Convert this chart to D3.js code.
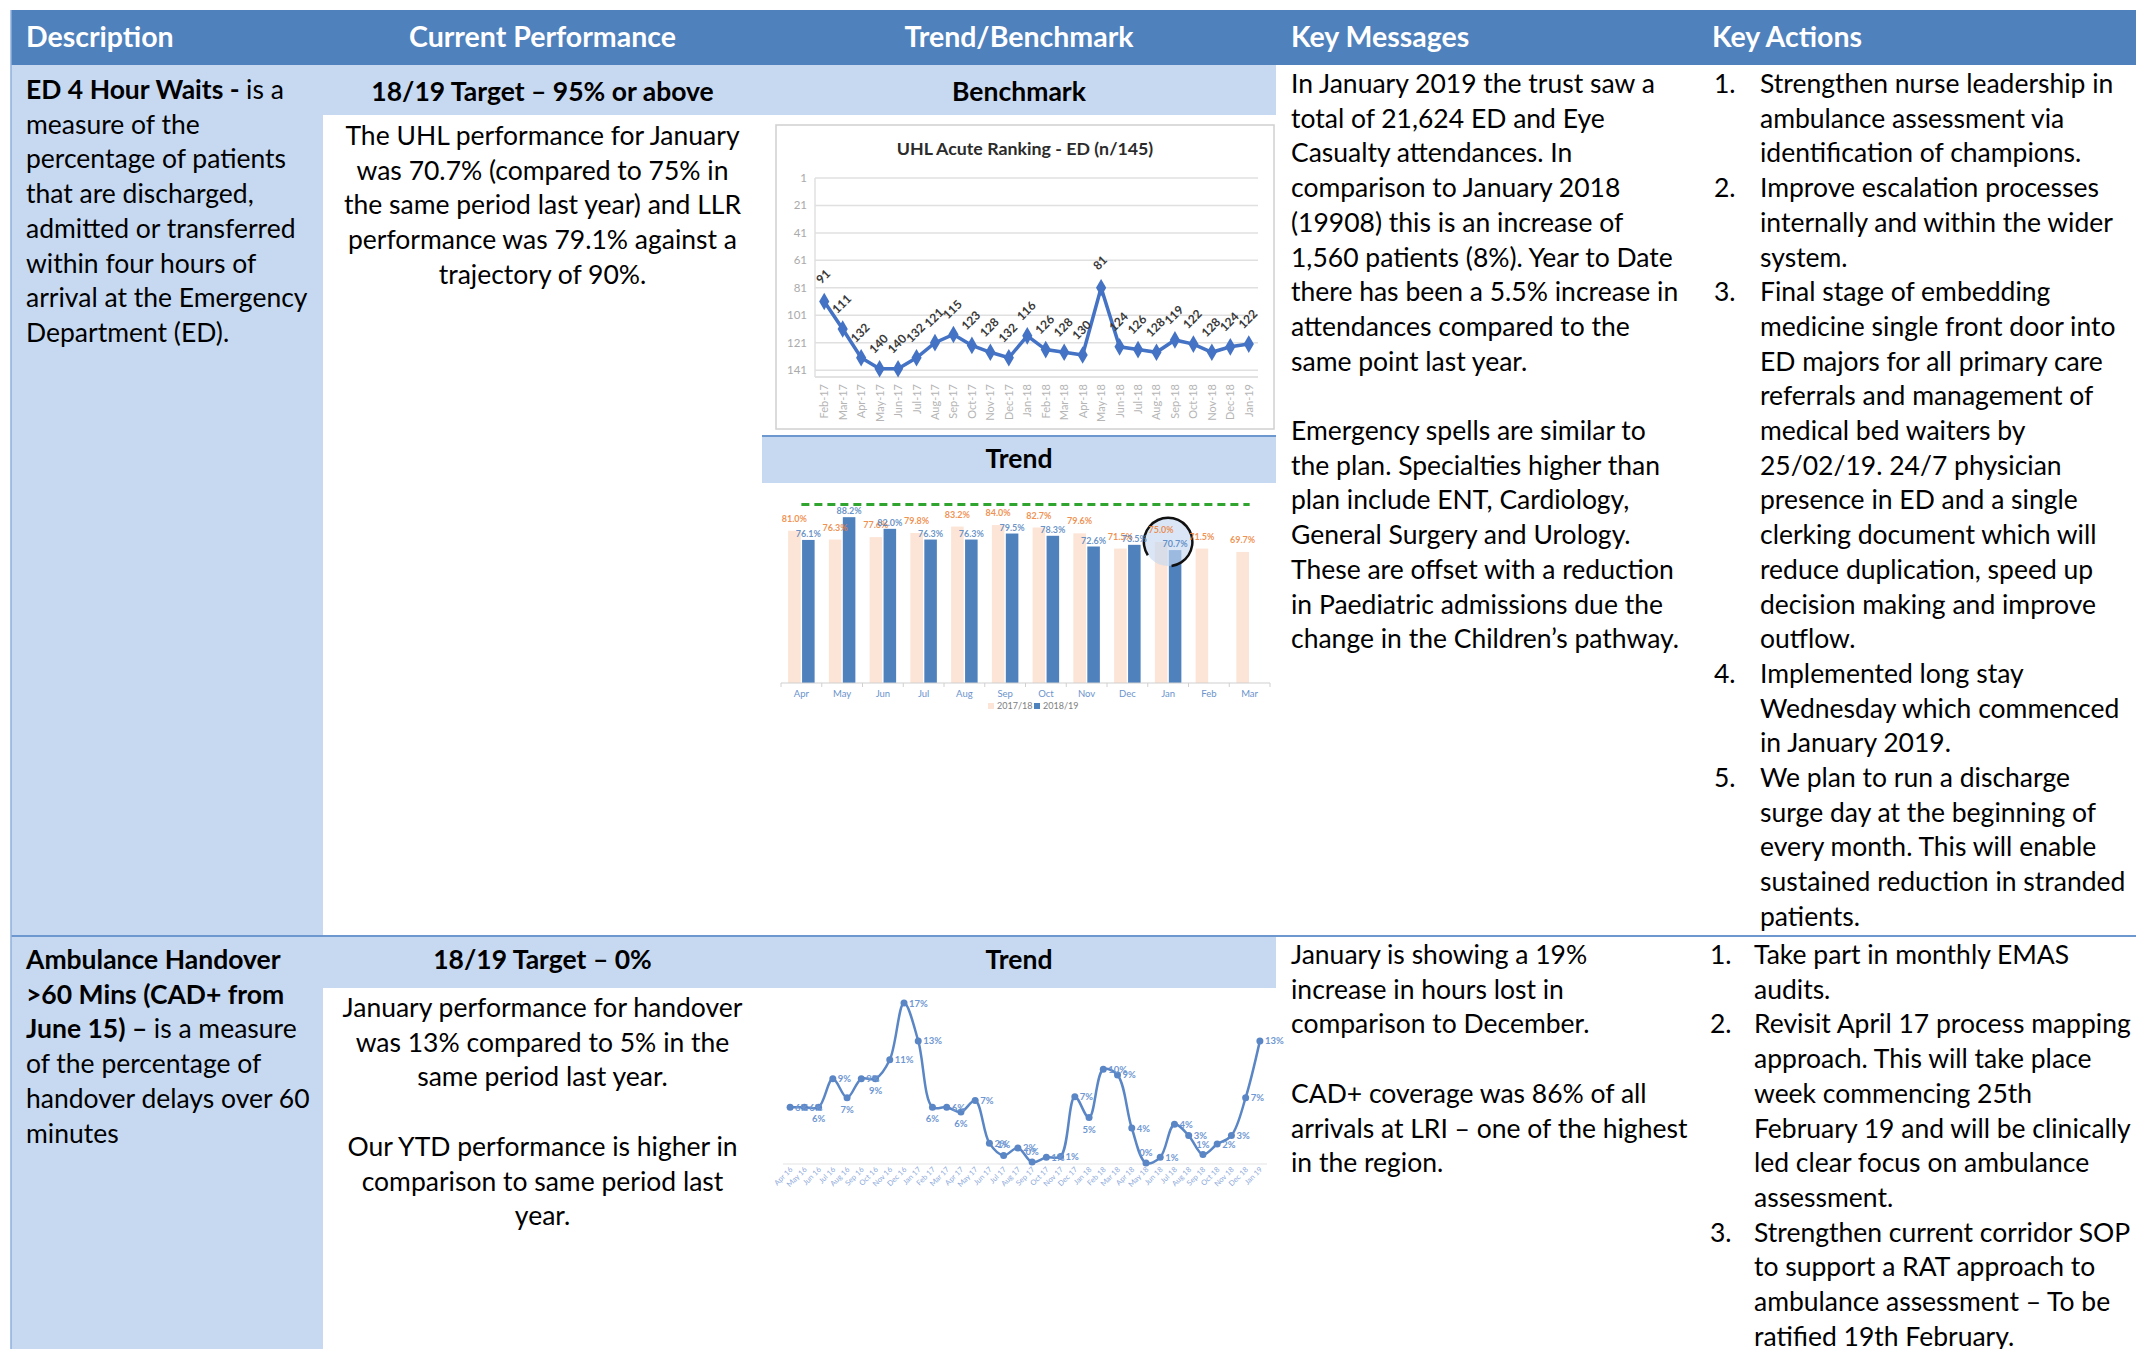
<!DOCTYPE html>
<meta charset="utf-8">

<style>
  body { margin: 0; background: #fff; }
  svg { display: block; font-family: Lato, "Open Sans", sans-serif; }
</style>

<svg class="chart"></svg>

<script src="https://d3js.org/d3.v7.min.js"></script>
<script>

  var width  = 2136;
  var height = 1349;

  // ---- data ----

  var headers = ["Description", "Current Performance", "Trend/Benchmark", "Key Messages", "Key Actions"];

  // benchmark: UHL acute ranking, ED (n/145)
  var rankMonths = ["Feb-17", "Mar-17", "Apr-17", "May-17", "Jun-17", "Jul-17", "Aug-17", "Sep-17",
                    "Oct-17", "Nov-17", "Dec-17", "Jan-18", "Feb-18", "Mar-18", "Apr-18", "May-18",
                    "Jun-18", "Jul-18", "Aug-18", "Sep-18", "Oct-18", "Nov-18", "Dec-18", "Jan-19"];
  var rankValues = [91, 111, 132, 140, 140, 132, 121, 115, 123, 128, 132, 116,
                    126, 128, 130, 81, 124, 126, 128, 119, 122, 128, 124, 122];
  var rankTicks  = [1, 21, 41, 61, 81, 101, 121, 141];

  // trend: ED 4 hour performance
  var trendMonths = ["Apr", "May", "Jun", "Jul", "Aug", "Sep", "Oct", "Nov", "Dec", "Jan", "Feb", "Mar"];
  var trendSeries = ["2017/18", "2018/19"];
  var trend1718   = [81.0, 76.3, 77.6, 79.8, 83.2, 84.0, 82.7, 79.6, 71.5, 75.0, 71.5, 69.7];
  var trend1819   = [76.1, 88.2, 82.0, 76.3, 76.3, 79.5, 78.3, 72.6, 73.5, 70.7];
  var trendTarget = 95;

  // ambulance handover > 60 mins (%)
  var handoverMonths = ["Apr 16", "May 16", "Jun 16", "Jul 16", "Aug 16", "Sep 16", "Oct 16", "Nov 16",
                        "Dec 16", "Jan 17", "Feb 17", "Mar 17", "Apr 17", "May 17", "Jun 17", "Jul 17",
                        "Aug 17", "Sep 17", "Oct 17", "Nov 17", "Dec 17", "Jan 18", "Feb 18", "Mar 18",
                        "Apr 18", "May 18", "Jun 18", "Jul 18", "Aug 18", "Sep 18", "Oct 18", "Nov 18",
                        "Dec 18", "Jan 19"];
  var handoverValues = [6.0, 6.0, 6.0, 9.0, 7.0, 9.0, 9.0, 11.0, 17.0, 13.0, 6.0, 6.0,
                        5.5, 6.7, 2.2, 0.9, 1.7, 0.2, 0.7, 0.8, 7.1, 4.9, 10.0, 9.4,
                        3.8, 0.1, 0.7, 4.2, 3.0, 1.0, 2.1, 3.0, 7.0, 13.0];

  // ---- texts ----

  var edDescription = [
    [["ED 4 Hour Waits - ", true], ["is a", false]],
    "measure of the",
    "percentage of patients",
    "that are discharged,",
    "admitted or transferred",
    "within four hours of",
    "arrival at the Emergency",
    "Department (ED)."
  ];
  var edTargetText = "18/19 Target \u2013 95% or above";
  var edPerformance = [
    "The UHL performance for January",
    "was 70.7% (compared to 75% in",
    "the same period last year) and LLR",
    "performance was 79.1% against a",
    "trajectory of 90%."
  ];
  var edMessages = [
    "In January 2019 the trust saw a",
    "total of 21,624 ED and Eye",
    "Casualty attendances. In",
    "comparison to January 2018",
    "(19908) this is an increase of",
    "1,560 patients (8%). Year to Date",
    "there has been a 5.5% increase in",
    "attendances compared to the",
    "same point last year.",
    "",
    "Emergency spells are similar to",
    "the plan. Specialties higher than",
    "plan include ENT, Cardiology,",
    "General Surgery and Urology.",
    "These are offset with a reduction",
    "in Paediatric admissions due the",
    "change in the Children\u2019s pathway."
  ];
  var edActions = [
    ["Strengthen nurse leadership in", "ambulance assessment via", "identification of champions."],
    ["Improve escalation processes", "internally and within the wider", "system."],
    ["Final stage of embedding", "medicine single front door into", "ED majors for all primary care",
     "referrals and management of", "medical bed waiters by", "25/02/19. 24/7 physician",
     "presence in ED and a single", "clerking document which will", "reduce duplication, speed up",
     "decision making and improve", "outflow."],
    ["Implemented long stay", "Wednesday which commenced", "in January 2019."],
    ["We plan to run a discharge", "surge day at the beginning of", "every month. This will enable",
     "sustained reduction in stranded", "patients."]
  ];

  var ahDescription = [
    [["Ambulance Handover", true]],
    [[">60 Mins (CAD+ from", true]],
    [["June 15) \u2013 ", true], ["is a measure", false]],
    "of the percentage of",
    "handover delays over 60",
    "minutes"
  ];
  var ahTargetText = "18/19 Target \u2013 0%";
  var ahPerformance = [
    "January performance for handover",
    "was 13% compared to 5% in the",
    "same period last year.",
    "",
    "Our YTD performance is higher in",
    "comparison to same period last",
    "year."
  ];
  var ahMessages = [
    "January is showing a 19%",
    "increase in hours lost in",
    "comparison to December.",
    "",
    "CAD+ coverage was 86% of all",
    "arrivals at LRI \u2013 one of the highest",
    "in the region."
  ];
  var ahActions = [
    ["Take part in monthly EMAS", "audits."],
    ["Revisit April 17 process mapping", "approach. This will take place", "week commencing 25th",
     "February 19 and will be clinically", "led clear focus on ambulance", "assessment."],
    ["Strengthen current corridor SOP", "to support a RAT approach to", "ambulance assessment \u2013 To be",
     "ratified 19th February."]
  ];

  // ---- layout ----

  var colX    = [11, 323, 762, 1276, 1696, width];
  var headTop = 10, headBottom = 65, rowSplit = 936;
  var lineH   = 34.7;
  var bodySize = 26.5, subSize = 26.5;

  var blueHead  = "#4f81bd";
  var lightBlue = "#c6d9f1";

  var chart = d3.select(".chart")
      .attr("width", width)
      .attr("height", height);

  // table backgrounds
  chart.append("rect")
      .attr("x", colX[0]).attr("y", headTop)
      .attr("width", width - colX[0]).attr("height", headBottom - headTop)
      .attr("fill", blueHead);

  chart.append("rect")
      .attr("x", colX[0]).attr("y", headBottom)
      .attr("width", colX[1] - colX[0]).attr("height", height - headBottom)
      .attr("fill", lightBlue);

  chart.append("rect")
      .attr("x", colX[1]).attr("y", headBottom)
      .attr("width", colX[3] - colX[1]).attr("height", 50)
      .attr("fill", lightBlue);

  chart.append("rect")
      .attr("x", colX[2]).attr("y", 436)
      .attr("width", colX[3] - colX[2]).attr("height", 47)
      .attr("fill", lightBlue);
  chart.append("line")
      .attr("x1", colX[2]).attr("x2", colX[3])
      .attr("y1", 436).attr("y2", 436)
      .attr("stroke", "#6d97cf").attr("stroke-width", 2);

  chart.append("rect")
      .attr("x", colX[1]).attr("y", rowSplit)
      .attr("width", colX[3] - colX[1]).attr("height", 52)
      .attr("fill", lightBlue);

  chart.append("line")
      .attr("x1", colX[0]).attr("x2", width)
      .attr("y1", rowSplit).attr("y2", rowSplit)
      .attr("stroke", "#6d97cf").attr("stroke-width", 2);

  chart.append("line")
      .attr("x1", colX[0]).attr("x2", colX[0])
      .attr("y1", headTop).attr("y2", height)
      .attr("stroke", "#8eb0dc").attr("stroke-width", 1.5);

  // header texts
  var headerPos = [
    { x: 26, anchor: "start" },
    { x: (colX[1] + colX[2]) / 2, anchor: "middle" },
    { x: (colX[2] + colX[3]) / 2, anchor: "middle" },
    { x: 1291, anchor: "start" },
    { x: 1712, anchor: "start" }
  ];
  chart.append("g")
    .selectAll("text")
    .data(headers)
    .enter().append("text")
      .attr("x", function(d, i) { return headerPos[i].x; })
      .attr("y", 47)
      .attr("text-anchor", function(d, i) { return headerPos[i].anchor; })
      .attr("fill", "#fff")
      .attr("font-weight", "bold")
      .attr("font-size", 28.5)
      .text(function(d) { return d; });

  function writeLines(lines, x, y, anchor, size) {
    var text = chart.append("text")
        .attr("text-anchor", anchor || "start")
        .attr("font-size", size || bodySize)
        .attr("fill", "#000");
    lines.forEach(function(line, i) {
      var segs = typeof line === "string" ? [[line, false]] : line;
      segs.forEach(function(seg, j) {
        var ts = text.append("tspan")
            .attr("font-weight", seg[1] ? "bold" : null)
            .text(seg[0]);
        if (j === 0) ts.attr("x", x).attr("y", y + i * lineH);
      });
    });
  }

  function writeList(items, nx, tx, y) {
    var n = 0;
    items.forEach(function(item, i) {
      chart.append("text")
          .attr("x", nx).attr("y", y + n * lineH)
          .attr("font-size", bodySize).attr("fill", "#000")
          .text((i + 1) + ".");
      writeLines(item, tx, y + n * lineH);
      n += item.length;
    });
  }

  function subHeader(label, x, y) {
    chart.append("text")
        .attr("x", x).attr("y", y)
        .attr("text-anchor", "middle")
        .attr("font-weight", "bold")
        .attr("font-size", subSize)
        .attr("fill", "#000")
        .text(label);
  }

  var midPerf  = (colX[1] + colX[2]) / 2;
  var midTrend = (colX[2] + colX[3]) / 2;

  // row 1
  writeLines(edDescription, 26, 99);
  subHeader(edTargetText, midPerf, 101);
  subHeader("Benchmark", midTrend, 101);
  subHeader("Trend", midTrend, 468);
  writeLines(edPerformance, midPerf, 145, "middle");
  writeLines(edMessages, 1291, 93);
  writeList(edActions, 1714, 1760, 93);

  // row 2
  writeLines(ahDescription, 26, 969);
  subHeader(ahTargetText, midPerf, 969);
  subHeader("Trend", midTrend, 969);
  writeLines(ahPerformance, midPerf, 1017, "middle");
  writeLines(ahMessages, 1291, 964);
  writeList(ahActions, 1710, 1754, 964);

  // ---- benchmark chart: ranking ----

  var rank = chart.append("g");

  rank.append("rect")
      .attr("x", 776).attr("y", 125)
      .attr("width", 498).attr("height", 304)
      .attr("fill", "#fff")
      .attr("stroke", "#d0d0d0").attr("stroke-width", 1.5);

  rank.append("text")
      .attr("x", 1025).attr("y", 155)
      .attr("text-anchor", "middle")
      .attr("font-weight", "bold")
      .attr("font-size", 17.8)
      .attr("fill", "#2b2b2b")
      .text("UHL Acute Ranking - ED (n/145)");

  var rankX = d3.scalePoint()
      .domain(rankMonths)
      .range([815, 1258])
      .padding(0.5);

  var rankY = d3.scaleLinear()
      .domain([1, 146])
      .range([178, 377]);

  rank.append("g")
    .selectAll("line")
    .data(rankTicks)
    .enter().append("line")
      .attr("x1", 815).attr("x2", 1258)
      .attr("y1", function(d) { return rankY(d); })
      .attr("y2", function(d) { return rankY(d); })
      .attr("stroke", "#e0e0e0").attr("stroke-width", 1.5);

  rank.append("line")
      .attr("x1", 815).attr("x2", 1258)
      .attr("y1", rankY(146)).attr("y2", rankY(146))
      .attr("stroke", "#d9d9d9").attr("stroke-width", 1.5);
  rank.append("line")
      .attr("x1", 815).attr("x2", 815)
      .attr("y1", rankY(1)).attr("y2", rankY(146))
      .attr("stroke", "#e0e0e0").attr("stroke-width", 1.5);

  rank.append("g")
    .selectAll("text")
    .data(rankTicks)
    .enter().append("text")
      .attr("x", 807)
      .attr("y", function(d) { return rankY(d) + 4; })
      .attr("text-anchor", "end")
      .attr("font-size", 11.5)
      .attr("fill", "#aaaaaa")
      .text(function(d) { return d; });

  rank.append("g")
    .selectAll("text")
    .data(rankMonths)
    .enter().append("text")
      .attr("transform", function(d) { return "translate(" + (rankX(d) + 4) + ",384) rotate(-90)"; })
      .attr("text-anchor", "end")
      .attr("font-size", 11)
      .attr("fill", "#b5b5b5")
      .text(function(d) { return d; });

  var rankLine = d3.line()
      .x(function(d, i) { return rankX(rankMonths[i]); })
      .y(function(d) { return rankY(d); });

  rank.append("path")
      .datum(rankValues)
      .attr("d", rankLine)
      .attr("fill", "none")
      .attr("stroke", "#4472c4")
      .attr("stroke-width", 3.5);

  rank.append("g")
    .selectAll("path")
    .data(rankValues)
    .enter().append("path")
      .attr("d", d3.symbol().type(d3.symbolDiamond).size(90))
      .attr("transform", function(d, i) { return "translate(" + rankX(rankMonths[i]) + "," + rankY(d) + ")"; })
      .attr("fill", "#4472c4");

  rank.append("g")
    .selectAll("text")
    .data(rankValues)
    .enter().append("text")
      .attr("transform", function(d, i) {
        return "translate(" + (rankX(rankMonths[i]) + 2) + "," + (rankY(d) - 22) + ") rotate(-45)";
      })
      .attr("text-anchor", "middle")
      .attr("font-size", 12)
      .attr("font-weight", "bold")
      .attr("fill", "#3a3a3a")
      .text(function(d) { return d; });

  // ---- trend chart: ED 4 hour performance ----

  var trend = chart.append("g");

  var trendX = d3.scaleBand()
      .domain(trendMonths)
      .range([781, 1270])
      .paddingInner(0.35)
      .paddingOuter(0.175);

  var trendX1 = d3.scaleBand()
      .domain(trendSeries)
      .range([0, trendX.bandwidth()])
      .paddingInner(0.1);

  var trendY = d3.scaleLinear()
      .domain([0, 100])
      .range([683, 495]);

  var trendColors = { "2017/18": "#fce4d6", "2018/19": "#4f81bd" };
  var labelColors = { "2017/18": "#ed7d31", "2018/19": "#4f81bd" };

  var trendData = [];
  trendMonths.forEach(function(m, i) {
    trendData.push({ month: m, series: "2017/18", value: trend1718[i] });
    if (i < trend1819.length) trendData.push({ month: m, series: "2018/19", value: trend1819[i] });
  });

  trend.append("g")
    .selectAll("rect")
    .data(trendData)
    .enter().append("rect")
      .attr("x", function(d) { return trendX(d.month) + trendX1(d.series); })
      .attr("y", function(d) { return trendY(d.value); })
      .attr("width", trendX1.bandwidth())
      .attr("height", function(d) { return trendY(0) - trendY(d.value); })
      .attr("fill", function(d) { return trendColors[d.series]; });

  // annotation circle around January
  var janX = trendX("Jan") + trendX.bandwidth() / 2;
  var janY = trendY(trend1718[9]);
  trend.append("circle")
      .attr("cx", janX).attr("cy", janY)
      .attr("r", 24)
      .attr("fill", "#c6d9f1").attr("fill-opacity", 0.65);

  trend.append("path")
      .attr("transform", "translate(" + janX + "," + janY + ")")
      .attr("d", d3.arc()({ innerRadius: 23, outerRadius: 25.5, startAngle: -2.15, endAngle: 3.0 }))
      .attr("fill", "#111");

  trend.append("g")
    .selectAll("text")
    .data(trendData)
    .enter().append("text")
      .attr("x", function(d) { return trendX(d.month) + trendX1(d.series) + trendX1.bandwidth() / 2; })
      .attr("y", function(d) { return trendY(d.value) - (d.series === "2017/18" ? 9 : 3); })
      .attr("text-anchor", "middle")
      .attr("font-size", 9)
      .attr("font-weight", "bold")
      .attr("fill", function(d) { return labelColors[d.series]; })
      .attr("fill-opacity", 0.85)
      .text(function(d) { return d.value.toFixed(1) + "%"; });

  trend.append("line")
      .attr("x1", trendX(trendMonths[0]) + trendX.bandwidth() / 2)
      .attr("x2", trendX(trendMonths[trendMonths.length - 1]) + trendX.bandwidth() / 2)
      .attr("y1", trendY(trendTarget)).attr("y2", trendY(trendTarget))
      .attr("stroke", "#2fa52f")
      .attr("stroke-width", 3)
      .attr("stroke-dasharray", "8,5");

  trend.append("line")
      .attr("x1", 781).attr("x2", 1270)
      .attr("y1", trendY(0)).attr("y2", trendY(0))
      .attr("stroke", "#d0d0d0").attr("stroke-width", 1.2);

  trend.append("g")
    .selectAll("line")
    .data(trendMonths.concat(["end"]))
    .enter().append("line")
      .attr("x1", function(d, i) { return 781 + i * trendX.step(); })
      .attr("x2", function(d, i) { return 781 + i * trendX.step(); })
      .attr("y1", trendY(0)).attr("y2", trendY(0) + 4)
      .attr("stroke", "#d0d0d0");

  trend.append("g")
    .selectAll("text")
    .data(trendMonths)
    .enter().append("text")
      .attr("x", function(d) { return trendX(d) + trendX.bandwidth() / 2; })
      .attr("y", 697)
      .attr("text-anchor", "middle")
      .attr("font-size", 9.5)
      .attr("fill", "#6a93cc")
      .text(function(d) { return d; });

  var legend = trend.append("g")
      .attr("transform", "translate(988,709)");
  trendSeries.forEach(function(s, i) {
    legend.append("rect")
        .attr("x", i * 46).attr("y", -6)
        .attr("width", 6).attr("height", 6)
        .attr("fill", trendColors[s]);
    legend.append("text")
        .attr("x", i * 46 + 9).attr("y", 0)
        .attr("font-size", 9)
        .attr("fill", "#808080")
        .text(s);
  });

  // ---- handover chart ----

  var hand = chart.append("g");

  var handX = d3.scalePoint()
      .domain(handoverMonths)
      .range([783, 1267])
      .padding(0.5);

  var handY = d3.scaleLinear()
      .domain([0, 17])
      .range([1164, 1003]);

  hand.append("line")
      .attr("x1", 783).attr("x2", 1267)
      .attr("y1", handY(0)).attr("y2", handY(0))
      .attr("stroke", "#e3e3e3").attr("stroke-width", 1.2);

  hand.append("g")
    .selectAll("text")
    .data(handoverMonths)
    .enter().append("text")
      .attr("transform", function(d) { return "translate(" + (handX(d) + 3) + "," + (handY(0) + 6) + ") rotate(-45)"; })
      .attr("text-anchor", "end")
      .attr("font-size", 7.5)
      .attr("fill", "#8eaadb")
      .text(function(d) { return d; });

  var handLine = d3.line()
      .curve(d3.curveCatmullRom.alpha(0.5))
      .x(function(d, i) { return handX(handoverMonths[i]); })
      .y(function(d) { return handY(d); });

  hand.append("path")
      .datum(handoverValues)
      .attr("d", handLine)
      .attr("fill", "none")
      .attr("stroke", "#5a86c5")
      .attr("stroke-width", 2.5);

  hand.append("g")
    .selectAll("circle")
    .data(handoverValues)
    .enter().append("circle")
      .attr("cx", function(d, i) { return handX(handoverMonths[i]); })
      .attr("cy", function(d) { return handY(d); })
      .attr("r", 3.5)
      .attr("fill", "#5a86c5");

  // labels: dips get their label below (above when near zero), others to the right
  function labelSide(i) {
    var n = handoverValues.length;
    if (i === 0 || i === n - 1) return "right";
    var v = handoverValues[i], prev = handoverValues[i - 1], next = handoverValues[i + 1];
    var dip = (v < prev && v <= next) || (v <= prev && v < next);
    if (!dip) return "right";
    return v > 1.5 ? "below" : "above";
  }

  hand.append("g")
    .selectAll("text")
    .data(handoverValues)
    .enter().append("text")
      .attr("x", function(d, i) { return handX(handoverMonths[i]) + (labelSide(i) === "right" ? 5 : 0); })
      .attr("y", function(d, i) {
        var side = labelSide(i);
        return handY(d) + (side === "right" ? 3.5 : side === "above" ? -7 : 15);
      })
      .attr("text-anchor", function(d, i) { return labelSide(i) === "right" ? "start" : "middle"; })
      .attr("font-size", 9.5)
      .attr("font-weight", "bold")
      .attr("fill", "#6f97d2")
      .text(function(d) { return Math.round(d) + "%"; });

</script>
